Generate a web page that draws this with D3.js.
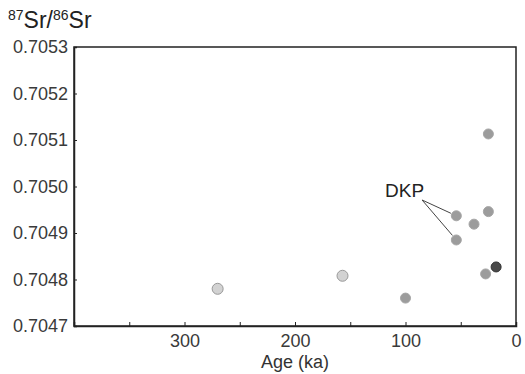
<!DOCTYPE html>
<html>
<head>
<meta charset="utf-8">
<script src="https://cdn.jsdelivr.net/npm/d3@7"></script>
<style>
  body { margin: 0; background: #fff; }
  svg { font-family: "Liberation Sans", Arial, sans-serif; }
  .axis path, .axis line { stroke: #222; }
  .axis text { fill: #3a3a3a; font-size: 18px; }
</style>
</head>
<body>
<svg id="chart" width="525" height="374"></svg>
<script>
// Sample ages (ka) and Sr isotope ratios
var ages   = [270, 157, 100, 54, 54, 38, 25, 27.5, 18, 25];
var ratios = [0.704780, 0.704808, 0.704760, 0.704937, 0.704885, 0.704919, 0.704946, 0.704812, 0.704827, 0.705113];
var tones  = ["light", "light", "mid", "mid", "mid", "mid", "mid", "mid", "dark", "mid"];

// DKP label position (age, ratio) and the points it points at
var dkpLabel = [85, 0.704971];
var dkpPoints = [3, 4];

var xTicks = [350, 300, 250, 200, 150, 100, 50, 0];
var xLabels = [300, 200, 100, 0];
var yTicks = [0.7047, 0.7048, 0.7049, 0.7050, 0.7051, 0.7052, 0.7053];

var svg = d3.select("#chart");
var margin = {top: 47, left: 74, bottom: 48, right: 9};
var svgWidth = +svg.attr("width");
var svgHeight = +svg.attr("height");
var width = svgWidth - margin.left - margin.right;
var height = svgHeight - margin.top - margin.bottom;

var g = svg.append("g")
    .attr("transform", "translate(" + [margin.left, margin.top] + ")");

var xScale = d3.scaleLinear().domain([400, 0]).range([0, width]);
var yScale = d3.scaleLinear().domain([0.7047, 0.7053]).range([height, 0]);

// frame
g.append("rect")
    .attr("width", width)
    .attr("height", height)
    .attr("fill", "none")
    .attr("stroke", "#222")
    .attr("stroke-width", 1.5);

var xAxisG = g.append("g")
    .attr("class", "x axis")
    .attr("transform", "translate(0," + height + ")")
    .call(d3.axisBottom(xScale)
        .tickValues(xTicks)
        .tickSize(-4)
        .tickPadding(8)
        .tickFormat(function(d) { return xLabels.indexOf(d) >= 0 ? d : ""; }));

var yAxisG = g.append("g")
    .attr("class", "y axis")
    .call(d3.axisLeft(yScale)
        .tickValues(yTicks)
        .tickSize(-3)
        .tickPadding(6)
        .tickFormat(d3.format(".4f")));

svg.selectAll(".axis .domain").attr("stroke-width", 1.5);
svg.selectAll(".axis .tick line").attr("stroke", "#555");

// axis titles
svg.append("text")
    .attr("x", margin.left + xScale(200))
    .attr("y", 368)
    .attr("text-anchor", "middle")
    .attr("fill", "#333")
    .attr("font-size", 18)
    .text("Age (ka)");

var title = svg.append("text")
    .attr("x", 8)
    .attr("y", 28)
    .attr("fill", "#222")
    .attr("font-size", 23);
title.append("tspan").attr("font-size", 14).attr("dy", -8).text("87");
title.append("tspan").attr("dy", 8).text("Sr/");
title.append("tspan").attr("font-size", 14).attr("dy", -8).text("86");
title.append("tspan").attr("dy", 8).text("Sr");

// points
var data = ages.map(function(a, i) {
    return {age: a, ratio: ratios[i], tone: tones[i]};
});

var fills = {light: "#d2d2d2", mid: "#9c9c9c", dark: "#4a4a4a"};
var strokes = {light: "#999", mid: "#a6a6a6", dark: "#333"};

g.selectAll(".dot")
    .data(data)
    .enter()
    .append("circle")
    .attr("class", "dot")
    .attr("cx", function(d) { return xScale(d.age); })
    .attr("cy", function(d) { return yScale(d.ratio); })
    .attr("r", function(d) { return d.tone == "light" ? 5.5 : 5; })
    .attr("fill", function(d) { return fills[d.tone]; })
    .attr("stroke", function(d) { return strokes[d.tone]; })
    .attr("stroke-width", 1);

// DKP annotation
var lx = xScale(dkpLabel[0]), ly = yScale(dkpLabel[1]);
dkpPoints.forEach(function(i) {
    var px = xScale(data[i].age), py = yScale(data[i].ratio);
    var dx = px - lx, dy = py - ly;
    var len = Math.sqrt(dx * dx + dy * dy);
    var k = (len - 6) / len;
    g.append("line")
        .attr("x1", lx)
        .attr("y1", ly)
        .attr("x2", lx + dx * k)
        .attr("y2", ly + dy * k)
        .attr("stroke", "#444")
        .attr("stroke-width", 1);
});

g.append("text")
    .attr("x", lx + 2)
    .attr("y", ly - 3)
    .attr("text-anchor", "end")
    .attr("fill", "#222")
    .attr("font-size", 19)
    .text("DKP");
</script>
</body>
</html>
